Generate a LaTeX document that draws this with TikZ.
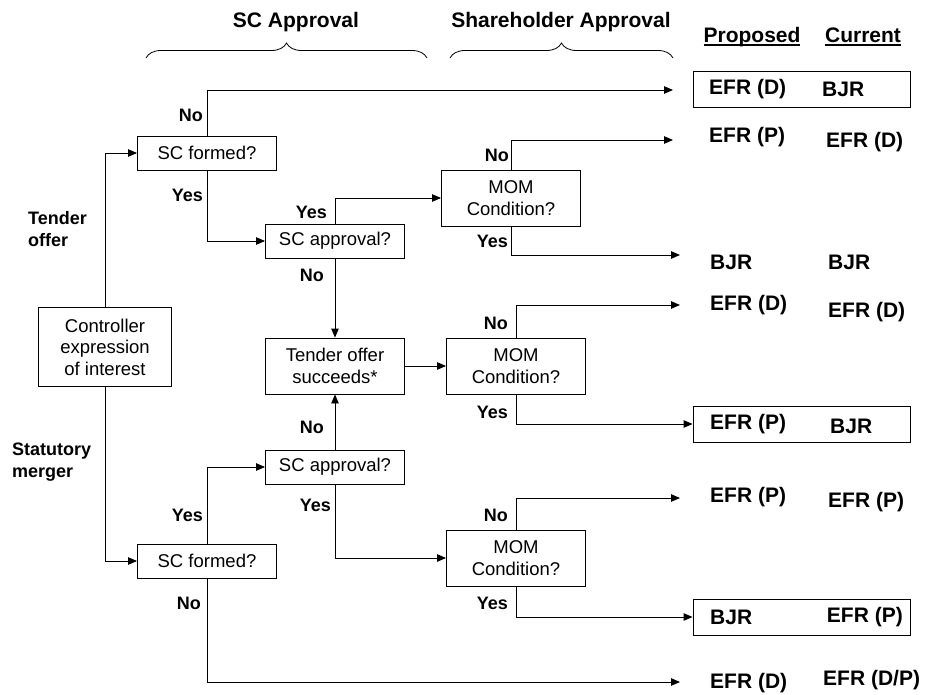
\documentclass[tikz,border=0pt]{standalone}
\usepackage{fontspec}
\setmainfont{Liberation Sans}
\usetikzlibrary{arrows.meta,decorations.pathreplacing}
\newcommand{\uhead}[1]{\setbox0\hbox{#1}\rlap{\rule[-3.5pt]{\wd0}{1.8pt}}\box0}
\tikzset{qbox/.style={draw,line width=0.9pt,fill=white,align=center,inner sep=0pt,minimum width=139pt,font=\fontsize{18.5}{21.5}\selectfont},
  lbl/.style={anchor=east,inner sep=0pt,font=\bfseries\fontsize{18}{22}\selectfont},
  res/.style={anchor=west,inner sep=0pt,font=\bfseries\fontsize{21}{24}\selectfont},
  head/.style={inner sep=0pt,font=\bfseries\fontsize{21}{24}\selectfont},
  outbox/.style={draw,line width=0.9pt,minimum width=217pt,minimum height=36pt,inner sep=0pt},
  flow/.style={line width=0.9pt,-{Triangle[length=9pt,width=7.5pt]}},
  link/.style={line width=0.9pt},
  grp/.style={decorate,decoration={brace,amplitude=15pt},line width=0.8pt}}

\begin{document}
\begin{tikzpicture}[x=1pt,y=-1pt]
        \useasboundingbox (0,0) rectangle (927,695);
        \node[head] (hsc) at (296,22) {SC Approval};
        \node[head] (hsh) at (561,22) {Shareholder Approval};
        \node[head] (hprop) at (752,37) {\uhead{Proposed}};
        \node[head] (hcur) at (863,37) {\uhead{Current}};
        \draw[grp] (146,58) -- (427,58);
        \draw[grp] (450,58) -- (673,58);
        \node[qbox,minimum width=133pt,minimum height=79pt] (ctrl) at (105,347) {Controller\\expression\\of interest};
        \node[qbox,minimum height=34pt] (scf1) at (207,153) {SC formed?};
        \node[qbox,minimum height=34pt] (scf2) at (207,561) {SC formed?};
        \node[qbox,minimum height=34pt] (sca1) at (335,241) {SC approval?};
        \node[qbox,minimum height=34pt] (sca2) at (335,467) {SC approval?};
        \node[qbox,minimum height=56pt] (tos) at (335,366) {Tender offer\\succeeds*};
        \node[qbox,minimum height=56pt] (mom1) at (511,198) {MOM\\Condition?};
        \node[qbox,minimum height=56pt] (mom2) at (516,366) {MOM\\Condition?};
        \node[qbox,minimum height=56pt] (mom3) at (516,558) {MOM\\Condition?};
        \node[anchor=west,align=left,inner sep=0pt,font=\bfseries\fontsize{18}{22}\selectfont] (ltend) at (28,229) {Tender\\offer};
        \node[anchor=west,align=left,inner sep=0pt,font=\bfseries\fontsize{18}{22}\selectfont] (lstat) at (12,462) {Statutory\\merger};
        \node[outbox] (out1) at (801.5,89) {};
        \node[outbox] (out5) at (801.5,424) {};
        \node[outbox] (out7) at (801.5,617) {};
        \coordinate (end2) at (673,140);
        \coordinate (end3) at (680,255);
        \coordinate (end4) at (680,305);
        \coordinate (end6) at (680,498);
        \coordinate (end8) at (680,682);
        \coordinate (end1) at (673,90);
        \node[res] (p1) at (709,89) {EFR (D)};
        \node[res] (c1) at (822,89) {BJR};
        \node[res] (p2) at (709,137) {EFR (P)};
        \node[res] (c2) at (826,142) {EFR (D)};
        \node[res] (p3) at (710,262) {BJR};
        \node[res] (c3) at (828,262) {BJR};
        \node[res] (p4) at (710,305) {EFR (D)};
        \node[res] (c4) at (828,312) {EFR (D)};
        \node[res] (p5) at (710,424) {EFR (P)};
        \node[res] (c5) at (830,426) {BJR};
        \node[res] (p6) at (710,497) {EFR (P)};
        \node[res] (c6) at (828,502) {EFR (P)};
        \node[res] (p7) at (710,617) {BJR};
        \node[res,anchor=east] (c7) at (903,617) {EFR (P)};
        \node[res] (p8) at (710,683) {EFR (D)};
        \node[res] (c8) at (823,680) {EFR (D/P)};
        \draw[flow] (ctrl.north) |- (scf1.west);
        \draw[flow] (ctrl.south) |- (scf2.west);
        \draw[flow] (scf1.north) |- (end1);
        \draw[flow] (scf1.south) |- (sca1.west);
        \draw[flow] (sca1.north) |- (mom1.west);
        \draw[flow] (sca1.south) -- (tos.north);
        \draw[flow] (tos.east) -- (mom2.west);
        \draw[flow] (sca2.north) -- (tos.south);
        \draw[flow] (sca2.south) |- (mom3.west);
        \draw[flow] (scf2.north) |- (sca2.west);
        \draw[flow] (scf2.south) |- (end8);
        \draw[flow] (mom1.north) |- (end2);
        \draw[flow] (mom1.south) |- (end3);
        \draw[flow] (mom2.north) |- (end4);
        \draw[flow] (mom2.south) |- (out5.west);
        \draw[flow] (mom3.north) |- (end6);
        \draw[flow] (mom3.south) |- (out7.west);
        \node[lbl] (n1) at (203,115) {No};
        \node[lbl] (y1) at (203,195) {Yes};
        \node[lbl] (y2) at (327,212) {Yes};
        \node[lbl] (n2) at (324,275) {No};
        \node[lbl] (n3) at (324,427) {No};
        \node[lbl] (y3) at (331,505) {Yes};
        \node[lbl] (y4) at (203,515) {Yes};
        \node[lbl] (n4) at (201,603) {No};
        \node[lbl] (n5) at (509,155) {No};
        \node[lbl] (y5) at (508,241) {Yes};
        \node[lbl] (n6) at (508,323) {No};
        \node[lbl] (y6) at (508,412) {Yes};
        \node[lbl] (n7) at (508,515) {No};
        \node[lbl] (y7) at (508,603) {Yes};
    \end{tikzpicture}
\end{document}
